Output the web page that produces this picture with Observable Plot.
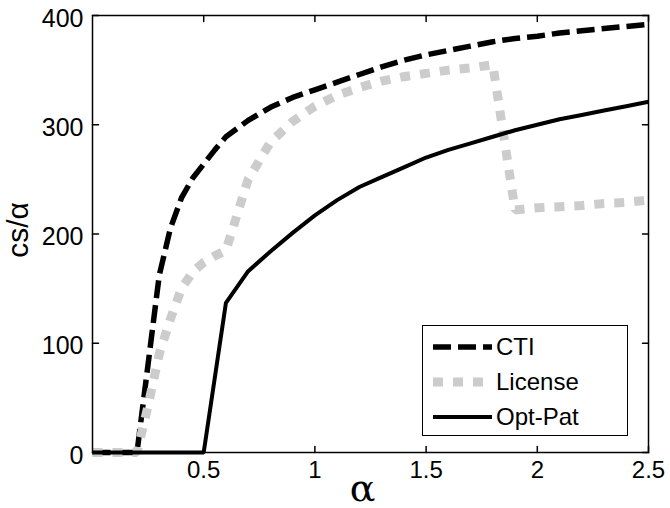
<!DOCTYPE html>
<html>
<head>
<meta charset="utf-8">
<script src="https://cdn.jsdelivr.net/npm/d3@7"></script>
<script src="https://cdn.jsdelivr.net/npm/@observablehq/plot@0.6"></script>
<style>
  html, body { margin: 0; padding: 0; background: #fff; }
  #wrap { position: relative; width: 670px; height: 508px; font-family: "Liberation Sans", Arial, sans-serif; }
  #legend { position: absolute; left: 422px; top: 325px; }
</style>
</head>
<body>
<div id="wrap"></div>
<script>
// ---- data ----
const seriesNames = ["CTI", "License", "Opt-Pat"];

const alphaCTI = [0, 0.1, 0.2, 0.3, 0.35, 0.4, 0.45, 0.5, 0.55, 0.6,
  0.7, 0.8, 0.9, 1.0, 1.1, 1.2, 1.3, 1.4, 1.5, 1.6, 1.7, 1.8, 1.9, 2.0, 2.1, 2.2, 2.3, 2.4, 2.5];
const valuesCTI = [0, 0, 0, 162, 205, 233, 251, 264, 277, 289,
  304, 316, 325, 332, 339, 346, 353, 359, 364, 368, 372, 376, 379, 381, 384, 386, 388, 390, 392];

const alphaLicense = [0, 0.1, 0.2, 0.25, 0.3, 0.35, 0.4, 0.45, 0.5, 0.55, 0.6,
  0.7, 0.8, 0.9, 1.0, 1.1, 1.2, 1.3, 1.4, 1.5, 1.6, 1.7, 1.8, 1.9, 2.0, 2.1, 2.2, 2.3, 2.4, 2.5];
const valuesLicense = [0, 0, 0, 43, 90, 122, 150, 165, 174, 180, 185,
  250, 284, 303, 317, 327, 334, 340, 344, 347, 350, 352, 355, 222, 224, 225, 226, 228, 229, 231];

const alphaOptPat = [0, 0.1, 0.2, 0.3, 0.4, 0.5, 0.6, 0.7, 0.8, 0.9, 1.0, 1.1, 1.2,
  1.3, 1.4, 1.5, 1.6, 1.7, 1.8, 1.9, 2.0, 2.1, 2.2, 2.3, 2.4, 2.5];
const valuesOptPat = [0, 0, 0, 0, 0, 0, 137, 166, 184, 201, 217, 231, 243,
  252, 261, 270, 277, 283, 289, 295, 300, 305, 309, 313, 317, 321];

const xTicks = [0.5, 1, 1.5, 2, 2.5];
const yTicks = [0, 100, 200, 300, 400];
const xLabel = "α";
const yLabel = "cs/α";

// ---- styles ----
const styles = {
  "CTI":     {stroke: "#000000", strokeWidth: 5.5, dash: "18,7"},
  "License": {stroke: "#cccccc", strokeWidth: 9,   dash: "10,10"},
  "Opt-Pat": {stroke: "#000000", strokeWidth: 4,   dash: null}
};

const rows = (xs, ys) => xs.map((x, i) => ({x, y: ys[i]}));
const dataCTI = rows(alphaCTI, valuesCTI);
const dataLicense = rows(alphaLicense, valuesLicense);
const dataOptPat = rows(alphaOptPat, valuesOptPat);

const tickShape = {draw(ctx, l) { ctx.moveTo(0, 0); ctx.lineTo(0, -l); }};
const tickLen = 6;

const lineMark = (data, name) => Plot.line(data, {
  x: "x", y: "y",
  stroke: styles[name].stroke,
  strokeWidth: styles[name].strokeWidth,
  strokeDasharray: styles[name].dash,
  strokeLinecap: "butt",
  strokeLinejoin: "miter"
});

const chart = Plot.plot({
  width: 670,
  height: 508,
  marginLeft: 92,
  marginRight: 22,
  marginTop: 15,
  marginBottom: 56,
  style: {fontFamily: "'Liberation Sans', Arial, sans-serif", background: "#fff", color: "#000"},
  x: {domain: [0, 2.5]},
  y: {domain: [0, 400]},
  marks: [
    lineMark(dataCTI, "CTI"),
    lineMark(dataLicense, "License"),
    lineMark(dataOptPat, "Opt-Pat"),
    Plot.frame({stroke: "#000", strokeWidth: 1.5}),
    Plot.vectorX(xTicks, {x: d => d, frameAnchor: "bottom", rotate: 0, anchor: "start", length: tickLen, shape: tickShape, stroke: "#000"}),
    Plot.vectorX(xTicks, {x: d => d, frameAnchor: "top", rotate: 180, anchor: "start", length: tickLen, shape: tickShape, stroke: "#000"}),
    Plot.vectorY(yTicks, {y: d => d, frameAnchor: "left", rotate: 90, anchor: "start", length: tickLen, shape: tickShape, stroke: "#000"}),
    Plot.vectorY(yTicks, {y: d => d, frameAnchor: "right", rotate: -90, anchor: "start", length: tickLen, shape: tickShape, stroke: "#000"}),
    Plot.axisX(xTicks, {anchor: "bottom", tickSize: 0, tickPadding: 8, fontSize: 24, label: null, tickFormat: d => String(d)}),
    Plot.axisY(yTicks, {anchor: "left", tickSize: 0, tickPadding: 9, fontSize: 25, label: null, dy: 3, tickFormat: d => String(d)}),
    Plot.text([xLabel], {frameAnchor: "bottom", textAnchor: "middle", lineAnchor: "bottom", dy: 48, dx: -8, fontSize: 38, fontFamily: "'DejaVu Serif', serif", fill: "#000"}),
    Plot.text([yLabel], {frameAnchor: "left", textAnchor: "middle", lineAnchor: "middle", dx: -74, dy: -4, rotate: -90, fontSize: 30, fill: "#000"})
  ]
});

const wrap = document.getElementById("wrap");
wrap.appendChild(chart);

// ---- legend (inside the axes, lower right) ----
const ns = "http://www.w3.org/2000/svg";
const lg = document.createElementNS(ns, "svg");
lg.setAttribute("id", "legend");
lg.setAttribute("width", 207);
lg.setAttribute("height", 112);
const box = document.createElementNS(ns, "rect");
box.setAttribute("x", 0.5); box.setAttribute("y", 0.5);
box.setAttribute("width", 205); box.setAttribute("height", 110);
box.setAttribute("fill", "#fff"); box.setAttribute("stroke", "#000"); box.setAttribute("stroke-width", 1);
lg.appendChild(box);
seriesNames.forEach((name, i) => {
  const cy = 22 + i * 35;
  const s = styles[name];
  const ln = document.createElementNS(ns, "line");
  ln.setAttribute("x1", 11); ln.setAttribute("x2", 70);
  ln.setAttribute("y1", cy); ln.setAttribute("y2", cy);
  ln.setAttribute("stroke", s.stroke);
  ln.setAttribute("stroke-width", s.strokeWidth);
  if (s.dash) ln.setAttribute("stroke-dasharray", s.dash);
  lg.appendChild(ln);
  const tx = document.createElementNS(ns, "text");
  tx.setAttribute("x", 74); tx.setAttribute("y", cy);
  tx.setAttribute("dy", "0.35em");
  tx.setAttribute("font-size", 24);
  tx.setAttribute("font-family", "'Liberation Sans', Arial, sans-serif");
  tx.textContent = name;
  lg.appendChild(tx);
});
wrap.appendChild(lg);
</script>
</body>
</html>
